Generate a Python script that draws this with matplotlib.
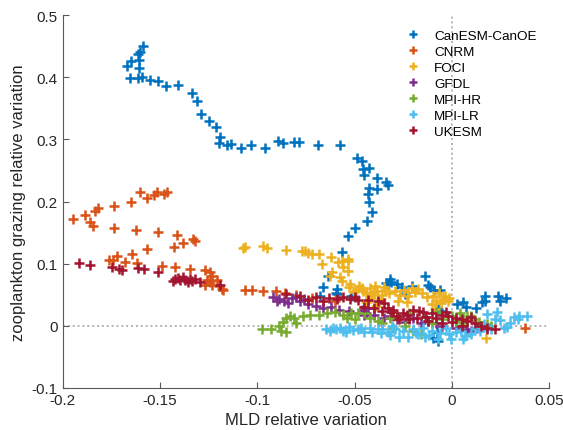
import matplotlib
matplotlib.use("Agg")
import matplotlib.pyplot as plt
from matplotlib.ticker import FuncFormatter

plt.rcParams['font.family'] = ['Liberation Sans', 'DejaVu Sans']
plt.rcParams['axes.unicode_minus'] = False

series_names = ["CanESM-CanOE", "CNRM", "FOCI", "GFDL", "MPI-HR", "MPI-LR", "UKESM"]
series_colors = ["#0072BD", "#D95319", "#EDB120", "#7E2F8E", "#77AC30", "#4DBEEE", "#A2142F"]

canesm_x = [-0.1587, -0.1615, -0.1605, -0.165, -0.1671, -0.161, -0.161, -0.1656, -0.1611, -0.1594,
            -0.155, -0.1512, -0.1468, -0.1406, -0.1334, -0.1311, -0.1289, -0.1247, -0.1214, -0.119,
            -0.1197, -0.1157, -0.1137, -0.1085, -0.1032, -0.0962, -0.0895, -0.0866, -0.081, -0.0784,
            -0.069, -0.0577, -0.0486, -0.0464, -0.0458, -0.0426, -0.0452, -0.0383, -0.0339, -0.0327,
            -0.0424, -0.0383, -0.0433, -0.0427, -0.041, -0.0438, -0.0498, -0.0535, -0.0566, -0.0635,
            -0.0664, -0.0596, -0.0592, -0.0516, -0.059, -0.0678, -0.0315, -0.031, -0.0327, -0.0284,
            -0.0258, -0.034, -0.0207, -0.024, -0.0138, -0.012, -0.009, -0.006, -0.011, -0.0053,
            -0.0069, 0.0025, 0.0057, 0.0072, 0.0127, 0.0153, 0.017, 0.0172, 0.0238, 0.0247,
            0.0278, -0.0095, -0.0078, -0.007]
canesm_y = [0.450, 0.4375, 0.440, 0.426, 0.418, 0.428, 0.415, 0.399, 0.399, 0.400,
            0.396, 0.3945, 0.3865, 0.3876, 0.3747, 0.3613, 0.341, 0.330, 0.320, 0.3034,
            0.294, 0.2915, 0.292, 0.2866, 0.2905, 0.2866, 0.298, 0.294, 0.296, 0.296,
            0.2905, 0.2915, 0.2705, 0.2647, 0.2523, 0.254, 0.2427, 0.2378, 0.2319, 0.2266,
            0.2222, 0.220, 0.212, 0.200, 0.1836, 0.168, 0.158, 0.144, 0.119, 0.0805,
            0.063, 0.052, 0.051, 0.048, 0.059, 0.048, 0.076, 0.070, 0.067, 0.067,
            0.062, 0.069, 0.064, 0.051, 0.080, 0.065, 0.057, 0.058, 0.062, 0.024,
            0.027, 0.035, 0.0377, 0.030, 0.028, 0.0377, 0.040, 0.048, 0.048, 0.040,
            0.044, -0.0206, -0.010, -0.024]

cnrm_x = [-0.1946, -0.1887, -0.186, -0.1843, -0.1836, -0.1817, -0.1736, -0.1649, -0.1603, -0.1565,
          -0.153, -0.1517, -0.148, -0.1462, -0.1736, -0.1623, -0.1512, -0.1414, -0.1329, -0.1322,
          -0.1383, -0.1428, -0.1565, -0.1644, -0.1719, -0.1762, -0.174, -0.1678, -0.1617, -0.1491,
          -0.1423, -0.1346, -0.1268, -0.1245, -0.1235, -0.126, -0.1245, -0.1205, -0.127, -0.1235,
          -0.1195, -0.1183, -0.1175, -0.1063, -0.1029, -0.0969, -0.0904, -0.0858, -0.080, -0.072,
          -0.060, -0.045, -0.030, 0.015, 0.0375]
cnrm_y = [0.1723, 0.1787, 0.1675, 0.161, 0.185, 0.1895, 0.193, 0.1997, 0.2158, 0.205,
          0.2105, 0.2158, 0.2126, 0.2148, 0.157, 0.1546, 0.1514, 0.146, 0.1396, 0.137,
          0.1332, 0.1272, 0.1235, 0.116, 0.1127, 0.1063, 0.1053, 0.103, 0.101, 0.0966,
          0.094, 0.0913, 0.0902, 0.086, 0.080, 0.074, 0.070, 0.073, 0.066, 0.066,
          0.064, 0.059, 0.058, 0.058, 0.058, 0.0559, 0.0559, 0.0527, 0.050, 0.045,
          0.040, 0.030, 0.015, 0.000, -0.004]

foci_x = [-0.1075, -0.1063, -0.0972, -0.0952, -0.0852, -0.0772, -0.0755, -0.074, -0.072, -0.068,
          -0.0669, -0.0621, -0.0585, -0.0566, -0.0535, -0.0532, -0.0558, -0.0532, -0.0618, -0.0626,
          -0.0575, -0.0566, -0.0524, -0.0527, -0.049, -0.046, -0.044, -0.042, -0.040, -0.0383,
          -0.036, -0.035, -0.0292, -0.0223, -0.0225, -0.019, -0.0172, -0.0231, -0.0443, -0.0392,
          -0.0104, -0.0097, -0.0045, -0.0037, -0.008, -0.002, -0.0086, 0.0175,
          -0.0505, -0.0475, -0.0455, -0.0415, -0.0395, -0.0345, -0.0325, -0.0265, -0.0245, -0.0205,
          -0.0155, -0.0125, -0.0065, -0.0415, -0.0365, -0.0275, -0.0055, -0.0015]
foci_y = [0.1246, 0.1262, 0.1278, 0.1246, 0.1215, 0.1205, 0.120, 0.117, 0.1155, 0.115,
          0.0994, 0.111, 0.1026, 0.1047, 0.108, 0.1047, 0.094, 0.0886, 0.086, 0.0805,
          0.078, 0.0725, 0.0671, 0.062, 0.058, 0.060, 0.052, 0.060, 0.055, 0.0562,
          0.050, 0.062, 0.0564, 0.0535, 0.0483, 0.054, 0.0588, 0.0375, 0.0375, 0.0323,
          0.035, 0.0482, 0.0428, 0.0482, 0.040, 0.040, 0.027, -0.0206,
          0.055, 0.064, 0.056, 0.050, 0.064, 0.058, 0.052, 0.050, 0.057, 0.060,
          0.052, 0.046, 0.053, 0.045, 0.043, 0.040, 0.036, 0.045]

gfdl_x = [-0.092, -0.089, -0.086, -0.082, -0.078, -0.074, -0.070, -0.066, -0.062, -0.058,
          -0.053, -0.046, -0.044, -0.040, -0.035, -0.028, -0.020, -0.012, -0.005, 0.002,
          0.008, 0.013, 0.018, -0.090, -0.084, -0.080, -0.076, -0.045, -0.043, -0.032,
          -0.024, -0.016, -0.008, 0.005, 0.010]
gfdl_y = [0.047, 0.043, 0.040, 0.045, 0.040, 0.035, 0.032, 0.028, 0.030, 0.026,
          0.024, 0.025, 0.020, 0.018, 0.012, 0.010, 0.012, 0.008, 0.000, -0.004,
          -0.005, -0.003, -0.006, 0.039, 0.036, 0.046, 0.043, 0.018, 0.028, 0.016,
          0.006, 0.004, 0.004, -0.001, -0.008]

mpihr_x = [-0.0977, -0.093, -0.0878, -0.085, -0.089, -0.087, -0.085, -0.083, -0.081, -0.080,
           -0.0764, -0.0729, -0.068, -0.064, -0.060, -0.056, -0.052, -0.048, -0.045, -0.042,
           -0.038, -0.032, -0.028, -0.024, -0.020, -0.016, -0.010, -0.005, 0.000, 0.004,
           0.008, 0.011, 0.014, 0.018, 0.020, -0.054, -0.050, -0.036, -0.030, -0.022,
           -0.014, -0.008, 0.002, 0.006, 0.010]
mpihr_y = [-0.005, -0.006, -0.009, -0.010, 0.000, 0.006, 0.012, 0.015, 0.013, 0.005,
           0.016, 0.017, 0.017, 0.020, 0.022, 0.018, 0.020, 0.020, 0.020, 0.012,
           0.008, 0.012, 0.015, 0.000, -0.008, -0.013, 0.005, 0.010, 0.015, 0.020,
           0.015, 0.010, 0.006, 0.002, 0.000, 0.012, 0.010, 0.004, -0.004, 0.020,
           0.014, 0.022, 0.008, 0.004, 0.016]

mpilr_x = [-0.0645, -0.0628, -0.061, -0.0595, -0.056, -0.0527, -0.051, -0.048, -0.0451, -0.042,
           -0.0408, -0.038, -0.0358, -0.033, -0.0316, -0.029, -0.0273, -0.025, -0.0223, -0.020,
           -0.0172, -0.015, -0.0138, -0.010, -0.007, -0.006, -0.003, -0.0003, 0.002, 0.0056,
           0.0067, 0.0098, 0.012, 0.0166, 0.0183, 0.020, 0.0234, 0.025, 0.027, 0.0284,
           0.0318, 0.0344, 0.0386, 0.022, -0.0575, -0.0545, -0.0465, -0.0365, -0.0305, -0.0185,
           -0.0115, -0.0015, 0.0045, 0.0145, 0.030, 0.034]
mpilr_y = [-0.005, -0.009, -0.004, -0.006, -0.008, -0.002, -0.007, -0.006, -0.010, -0.004,
           -0.010, -0.006, -0.005, -0.010, -0.015, -0.006, -0.018, -0.008, -0.018, -0.005,
           -0.013, -0.003, -0.018, -0.008, -0.021, -0.012, -0.004, -0.021, -0.010, -0.021,
           -0.016, -0.013, -0.004, 0.003, 0.019, -0.005, 0.022, 0.0085, -0.004, -0.002,
           0.0137, 0.016, 0.016, 0.010, -0.003, -0.010, -0.003, -0.012, -0.001, -0.012,
           -0.015, -0.014, -0.008, -0.009, 0.004, 0.010]

ukesm_x = [-0.1915, -0.186, -0.1745, -0.1709, -0.1695, -0.1612, -0.1582, -0.1512, -0.1432, -0.1423,
           -0.1405, -0.1395, -0.138, -0.137, -0.1355, -0.1345, -0.1335, -0.132, -0.1295, -0.1192,
           -0.085, -0.078, -0.070, -0.063, -0.056, -0.0523, -0.048, -0.043, -0.038, -0.035,
           -0.033, -0.031, -0.028, -0.025, -0.020, -0.015, -0.010, -0.005, -0.008, -0.002,
           0.002, 0.005, 0.008, 0.012, 0.015, 0.005, -0.005, -0.012, -0.018, -0.022,
           0.018, 0.022, -0.040, -0.045, -0.074, -0.066, -0.059, -0.050, -0.036, -0.030,
           -0.027, -0.023, -0.017, -0.013, -0.003, 0.000, 0.010]
ukesm_y = [0.1005, 0.0982, 0.094, 0.0913, 0.089, 0.0924, 0.0913, 0.087, 0.0725, 0.0752,
           0.077, 0.073, 0.078, 0.074, 0.071, 0.075, 0.072, 0.076, 0.070, 0.0655,
           0.051, 0.048, 0.047, 0.044, 0.047, 0.043, 0.042, 0.042, 0.040, 0.036,
           0.029, 0.022, 0.016, 0.020, 0.026, 0.022, 0.020, 0.018, 0.012, 0.015,
           0.012, 0.010, 0.008, 0.005, 0.000, 0.000, 0.005, 0.008, 0.012, 0.010,
           -0.003, -0.005, 0.028, 0.030, 0.042, 0.040, 0.043, 0.046, 0.024, 0.026,
           0.010, 0.018, 0.024, 0.014, 0.022, 0.006, 0.014]

series_x = [canesm_x, cnrm_x, foci_x, gfdl_x, mpihr_x, mpilr_x, ukesm_x]
series_y = [canesm_y, cnrm_y, foci_y, gfdl_y, mpihr_y, mpilr_y, ukesm_y]

x_ticks = [-0.2, -0.15, -0.1, -0.05, 0, 0.05]
y_ticks = [-0.1, 0, 0.1, 0.2, 0.3, 0.4, 0.5]

fig = plt.figure(figsize=(5.63, 4.31), dpi=100)
ax = fig.add_axes([0.1114, 0.0979, 0.8638, 0.8645])

ax.axhline(0, color="#b3b3b3", linestyle=(0, (1, 1.5)), linewidth=1.4, zorder=1)
ax.axvline(0, color="#b3b3b3", linestyle=(0, (1, 1.5)), linewidth=1.4, zorder=1)

for name, col, xs, ys in zip(series_names, series_colors, series_x, series_y):
    ax.plot(xs, ys, linestyle="none", marker="+", markersize=6.5, markeredgewidth=1.8,
            color=col, label=name, zorder=2)

ax.set_xlim(-0.2, 0.05)
ax.set_ylim(-0.1, 0.5)
ax.set_xticks(x_ticks)
ax.set_yticks(y_ticks)
fmt = FuncFormatter(lambda v, p: "%g" % round(v, 3))
ax.xaxis.set_major_formatter(fmt)
ax.yaxis.set_major_formatter(fmt)

for s in ["top", "right"]:
    ax.spines[s].set_visible(False)
for s in ["left", "bottom"]:
    ax.spines[s].set_color("#5a5a5a")
    ax.spines[s].set_linewidth(0.8)
ax.tick_params(direction="in", length=4, width=0.8, color="#5a5a5a",
               labelsize=11, labelcolor="#262626")

ax.set_xlabel("MLD relative variation", fontsize=12, color="#262626", labelpad=4)
ax.set_ylabel("zooplankton grazing relative variation", fontsize=12, color="#262626", labelpad=4)

leg = ax.legend(loc="upper left", bbox_to_anchor=(0.706, 0.962), frameon=False,
                fontsize=9.7, numpoints=1, handlelength=1.0, handletextpad=1.1,
                borderaxespad=0, borderpad=0, labelspacing=0.27, markerscale=0.85)

fig.savefig("out.png", dpi=100)
